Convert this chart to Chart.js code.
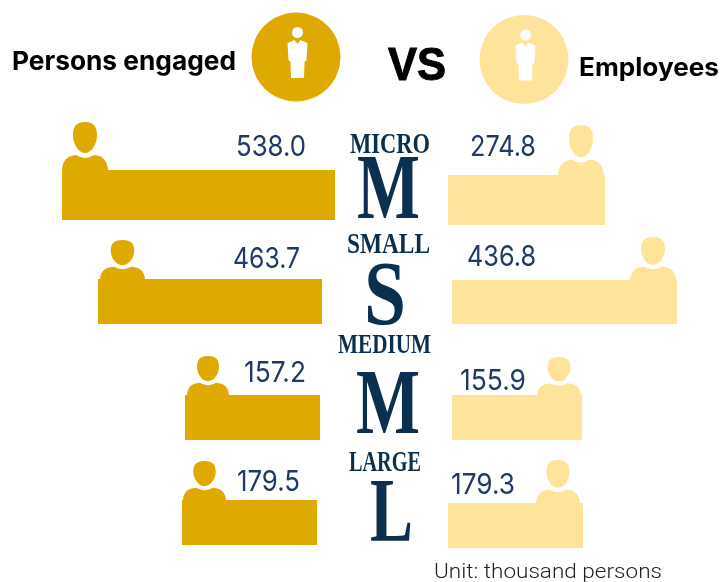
<!DOCTYPE html>
<html>
<head>
<meta charset="utf-8">
<title>Persons engaged VS Employees</title>
<script src="https://cdn.jsdelivr.net/npm/chart.js@4"></script>
<style>
  html, body { margin: 0; padding: 0; background: #fff; overflow: hidden; }
  #page { position: relative; width: 721px; height: 582px; overflow: hidden; }
  #page canvas { position: absolute; }
  #overlay { position: absolute; left: 0; top: 0; }
  .head { font-family: Inter, sans-serif; font-weight: 700; fill: #000; }
  .vs { font-family: "Liberation Sans", sans-serif; font-weight: 700; fill: #000; stroke: #000; stroke-width: 1px; }
  .val { font-family: Inter, sans-serif; font-weight: 400; font-size: 29px; fill: #1f3a68; }
  .size { font-family: "Liberation Serif", serif; font-weight: 700; fill: #0b2f4e; }
  .unit { font-family: Roboto, sans-serif; font-weight: 300; font-size: 20px; fill: #222; }
</style>
</head>
<body>
<div id="page">
  <svg id="overlay" width="721" height="582" xmlns="http://www.w3.org/2000/svg"></svg>
</div>
<script>
// ================== Data ==================
const categories = ["MICRO", "SMALL", "MEDIUM", "LARGE"];
const sizeLetters = ["M", "S", "M", "L"];
const personsEngaged = [538.0, 463.7, 157.2, 179.5];
const employees = [274.8, 436.8, 155.9, 179.3];

// ================== Layout ==================
const GOLD = "#deaa00";
const CREAM = "#fee39a";
// The bars in the picture are not drawn to one common scale, so every bar gets
// its own small chart: its axis runs 0..value and the box sets the drawn length
const leftBoxes = [[62, 170, 273, 50], [98, 279, 224, 45], [185, 395, 135, 45], [182, 500, 135, 45]];
const rightBoxes = [[448, 175, 157, 50], [452, 280, 225, 44], [452, 395, 130, 45], [448, 503, 135, 45]];
const leftIcons = [[62, 122, 46, 48], [100, 240, 45, 39], [187, 356, 42, 39], [183, 461, 43, 39]];
const rightIcons = [[558, 125, 46, 50], [630, 237, 46, 43], [537, 357, 44, 38], [536, 460, 44, 43]];
const leftValuePos = [[236, 156, 70], [233, 268, 67], [244, 382, 62], [237, 491, 63]];
const rightValuePos = [[470, 156, 66], [467, 266, 69], [460, 390, 66], [451, 494, 64]];
// x, baseline, width, font size
const labelPos = [[350, 153, 80, 30], [347, 253, 83, 30], [338, 353, 93, 28], [349, 471, 72, 29]];
const letterPos = [[357, 218, 63, 94], [364, 324, 42, 90], [356, 433, 64, 94], [370, 541, 43, 92]];

// ================== Helpers ==================
const page = document.getElementById("page");
const overlay = document.getElementById("overlay");
const SVG_NS = "http://www.w3.org/2000/svg";

function svgEl(name, attrs, text) {
  const el = document.createElementNS(SVG_NS, name);
  Object.keys(attrs).forEach(k => el.setAttribute(k, attrs[k]));
  if (text !== undefined) el.textContent = text;
  overlay.appendChild(el);
  return el;
}

function addText(cls, str, x, y, width, size) {
  const attrs = { class: cls, x: x, y: y };
  if (width) { attrs.textLength = width; attrs.lengthAdjust = "spacingAndGlyphs"; }
  if (size) attrs["font-size"] = size;
  return svgEl("text", attrs, str);
}

function addBar(box, category, seriesName, value, color) {
  const canvas = document.createElement("canvas");
  canvas.width = box[2];
  canvas.height = box[3];
  canvas.style.left = box[0] + "px";
  canvas.style.top = box[1] + "px";
  page.insertBefore(canvas, overlay);
  return new Chart(canvas.getContext("2d"), {
    type: "bar",
    data: {
      labels: [category],
      datasets: [{
        label: seriesName,
        data: [value],
        backgroundColor: color,
        barPercentage: 1,
        categoryPercentage: 1
      }]
    },
    options: {
      indexAxis: "y",
      responsive: false,
      animation: false,
      layout: { padding: 0 },
      plugins: { legend: { display: false }, tooltip: { enabled: false } },
      scales: {
        x: { display: false, min: 0, max: value },
        y: { display: false }
      }
    }
  });
}

// head and shoulders, viewBox 46x48
function addBust(box, color) {
  const sx = box[2] / 46, sy = box[3] / 48;
  svgEl("path", {
    transform: `translate(${box[0]},${box[1]}) scale(${sx},${sy})`,
    fill: color,
    d: "M23 0C32 0 35 5 35 13C35 23 29 31 23 31C17 31 11 23 11 13C11 5 14 0 23 0Z" +
       "M14 33C18 35 20 36 23 36C26 36 28 35 32 33C41 34 45 38 46 48L0 48C1 38 5 34 14 33Z"
  });
}

// round badge with the standing figure
function addBadge(cx, cy, color) {
  svgEl("circle", { cx: cx, cy: cy, r: 44.5, fill: color });
  svgEl("circle", { cx: cx + 1.5, cy: cy - 24.5, r: 5.5, fill: "#fff" });
  svgEl("path", {
    transform: `translate(${cx + 1.5},${cy})`,
    fill: "#fff",
    d: "M-10 -14L-3 -17L0 -13L3 -17L10 -14L9 3L7 5L6.5 21L-6.5 21L-7 5L-9 3Z"
  });
}

// ================== Draw ==================
categories.forEach((cat, i) => {
  addBar(leftBoxes[i], cat, "Persons engaged", personsEngaged[i], GOLD);
  addBar(rightBoxes[i], cat, "Employees", employees[i], CREAM);
  addBust(leftIcons[i], GOLD);
  addBust(rightIcons[i], CREAM);

  const lv = leftValuePos[i], rv = rightValuePos[i];
  addText("val", personsEngaged[i].toFixed(1), lv[0], lv[1], lv[2]);
  addText("val", employees[i].toFixed(1), rv[0], rv[1], rv[2]);

  const lp = labelPos[i], lt = letterPos[i];
  addText("size", cat, lp[0], lp[1], lp[2], lp[3]);
  addText("size", sizeLetters[i], lt[0], lt[1], lt[2], lt[3]);
});

addBadge(296, 57, GOLD);
addBadge(524, 59.5, CREAM);
addText("head", "Persons engaged", 12, 70, 224, 26);
addText("vs", "VS", 388, 80, 58, 46);
addText("head", "Employees", 579, 76, 140, 25);
addText("unit", "Unit: thousand persons", 434, 577.5, 228);
</script>
</body>
</html>
